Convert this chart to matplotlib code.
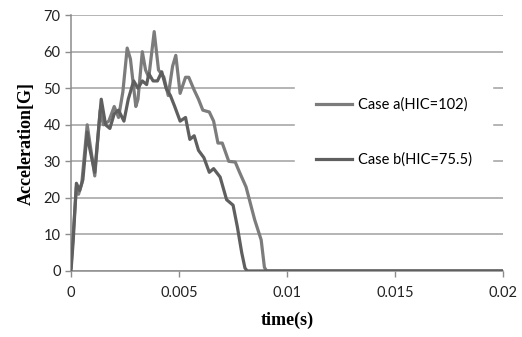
import numpy as np
import matplotlib
matplotlib.use("Agg")
import matplotlib.pyplot as plt

# time in ms, acceleration in G
t_a = [0.0, 0.1, 0.25, 0.35, 0.5, 0.75, 0.85, 1.1, 1.35, 1.5, 1.75, 2.0, 2.2, 2.4, 2.6,
       2.75, 3.0, 3.1, 3.3, 3.45, 3.6, 3.85, 4.05, 4.3, 4.5, 4.7, 4.85, 5.05, 5.3, 5.45,
       5.7, 5.9, 6.1, 6.4, 6.6, 6.8, 7.0, 7.3, 7.6, 7.8, 8.1, 8.5, 8.8, 8.95, 9.05, 20.0]
acc_a = [1, 10, 23, 21, 24, 40, 36, 26, 44, 40, 41, 45, 42, 49, 61,
         58, 45, 47, 60, 55, 53, 65.5, 55, 53, 48, 56, 59, 48.6, 53, 53,
         49.5, 47, 44, 43.5, 41, 35, 35, 30, 29.8, 27, 23, 14, 8.5, 1, 0, 0]

t_b = [0.0, 0.1, 0.25, 0.4, 0.55, 0.75, 0.85, 1.1, 1.4, 1.6, 1.8, 2.0, 2.2, 2.45, 2.65,
       2.9, 3.1, 3.3, 3.5, 3.6, 3.8, 4.0, 4.2, 4.4, 4.6, 4.8, 5.05, 5.3, 5.5, 5.7,
       5.9, 6.15, 6.4, 6.6, 6.9, 7.2, 7.5, 7.7, 7.9, 8.05, 8.15, 20.0]
acc_b = [0, 8, 24, 22, 25, 38, 34, 27, 47, 40, 39, 43, 44, 41, 47,
         52, 50, 52, 51, 54, 52, 52, 54.5, 50, 48, 45, 41, 42, 36, 37,
         33, 31, 27, 28, 25.7, 19.5, 18, 12, 5, 0.8, 0, 0]

labels = ["Case a(HIC=102)", "Case b(HIC=75.5)"]
xticks = [0, 0.005, 0.01, 0.015, 0.02]
xtick_labels = ["0", "0.005", "0.01", "0.015", "0.02"]

fig = plt.figure(figsize=(5.22, 3.37), dpi=100)
ax = fig.add_axes([0.136, 0.196, 0.828, 0.759])

ax.plot(np.array(t_a) * 1e-3, acc_a, color="#7c7c7c", lw=2.3, label=labels[0], zorder=3)
ax.plot(np.array(t_b) * 1e-3, acc_b, color="#5f5f5f", lw=2.3, label=labels[1], zorder=3)

ax.set_xlim(0, 0.02)
ax.set_ylim(0, 70)
ax.set_yticks(range(0, 71, 10))
ax.set_xticks(xticks)
ax.set_xticklabels(xtick_labels)
ax.grid(axis="y", color="#a0a0a0", lw=1.1)
ax.set_axisbelow(True)

for s in ["top", "right"]:
    ax.spines[s].set_visible(False)
for s in ["left", "bottom"]:
    ax.spines[s].set_color("#8c8c8c")
    ax.spines[s].set_linewidth(1.1)
ax.tick_params(colors="#8c8c8c", length=4, width=1, labelcolor="#222222", labelsize=10.5)
for lab in ax.get_xticklabels() + ax.get_yticklabels():
    lab.set_family("Lato")
ax.tick_params(axis="x", pad=7)

ax.set_xlabel("time(s)", family="Liberation Serif", weight="bold", fontsize=13, labelpad=8)
ax.set_ylabel("Acceleration[G]", family="Liberation Serif", weight="bold", fontsize=13, labelpad=6)

leg = ax.legend(loc="center left", bbox_to_anchor=(0.519, 0.543), frameon=True,
                prop={"family": "Lato", "size": 10.5}, handlelength=2.5, handletextpad=0.4,
                borderpad=1.4, labelspacing=2.8, borderaxespad=0)
leg.get_frame().set_facecolor("white")
leg.get_frame().set_edgecolor("white")
leg.get_frame().set_alpha(1)
leg.set_zorder(2)

fig.savefig("out.png", dpi=100)
